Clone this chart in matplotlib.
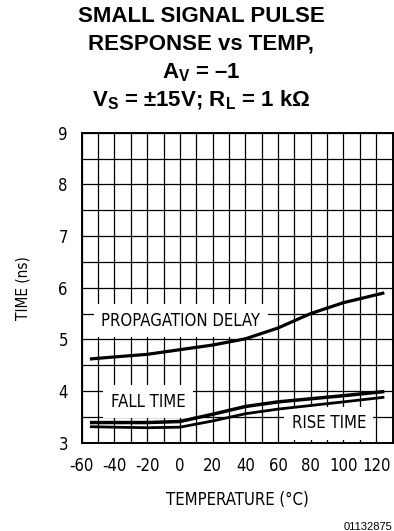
import matplotlib
matplotlib.use("Agg")
import matplotlib.pyplot as plt

# data
temp = [-55, -40, -20, 0, 20, 40, 60, 80, 100, 125]
prop_delay = [4.62, 4.66, 4.71, 4.80, 4.89, 5.01, 5.22, 5.50, 5.71, 5.90]
fall_time = [3.39, 3.39, 3.39, 3.41, 3.55, 3.70, 3.79, 3.85, 3.91, 3.99]
rise_time = [3.31, 3.30, 3.29, 3.30, 3.42, 3.56, 3.65, 3.72, 3.79, 3.88]

x_ticks = [-60, -40, -20, 0, 20, 40, 60, 80, 100, 120]
y_ticks = [3, 4, 5, 6, 7, 8, 9]

plt.rcParams['mathtext.fontset'] = 'custom'
plt.rcParams['mathtext.rm'] = 'Liberation Sans:bold'
plt.rcParams['mathtext.it'] = 'Liberation Sans:bold'
plt.rcParams['mathtext.bf'] = 'Liberation Sans:bold'
plt.rcParams['axes.unicode_minus'] = False

fig = plt.figure(figsize=(3.94, 5.31), dpi=100)
ax = fig.add_axes([0.2074, 0.1663, 0.9962 - 0.2074, 0.7501 - 0.1663])

lab_font = dict(family='DejaVu Sans', stretch='condensed')

# grid every 10 degC and 0.5 ns
for gx in range(-60, 131, 10):
    ax.axvline(gx, color='black', lw=0.9, zorder=1)
for gy in [3 + 0.5 * i for i in range(13)]:
    ax.axhline(gy, color='black', lw=0.9, zorder=1)

ax.plot(temp, prop_delay, color='black', lw=2.3, zorder=4, solid_capstyle='butt')
ax.plot(temp, fall_time, color='black', lw=2.5, zorder=4, solid_capstyle='butt')
ax.plot(temp, rise_time, color='black', lw=2.0, zorder=4, solid_capstyle='butt')

box = dict(boxstyle='square,pad=0.45', fc='white', ec='none')
ax.text(0.5, 5.36, 'PROPAGATION DELAY', ha='center', va='center', fontsize=12,
        bbox=box, zorder=3, **lab_font)
ax.text(-19.5, 3.79, 'FALL TIME', ha='center', va='center', fontsize=12,
        bbox=box, zorder=3, **lab_font)
ax.text(91, 3.38, 'RISE TIME', ha='center', va='center', fontsize=12,
        bbox=box, zorder=3, **lab_font)

ax.set_xlim(-60, 130)
ax.set_ylim(3, 9)
ax.set_xticks(x_ticks)
ax.set_yticks(y_ticks)
ax.set_xticklabels([str(v) for v in x_ticks])
ax.tick_params(length=0, pad=10, labelsize=12)
for t in ax.get_xticklabels() + ax.get_yticklabels():
    t.set_family('DejaVu Sans')
    t.set_stretch('condensed')
for s in ax.spines.values():
    s.set_linewidth(1.4)

ax.set_xlabel('TEMPERATURE (°C)', fontsize=12, labelpad=12, **lab_font)
ax.set_ylabel('TIME (ns)', fontsize=11, labelpad=20, **lab_font)

title_font = dict(family='Liberation Sans', weight='bold', fontsize=16, ha='center', va='center')
fig.text(0.51, 1 - 17 / 531, 'SMALL SIGNAL PULSE', **title_font)
fig.text(0.51, 1 - 44 / 531, 'RESPONSE vs TEMP,', **title_font)
fig.text(0.51, 1 - 73 / 531, r'A$_V$ = –1', **title_font)
fig.text(0.51, 1 - 100 / 531, r'V$_S$ = ±15V; R$_L$ = 1 kΩ', **title_font)

fig.text(0.995, 1 - 527 / 531, '01132875', family='Liberation Sans', fontsize=8,
         ha='right', va='center')

fig.savefig('out.png', dpi=100)
